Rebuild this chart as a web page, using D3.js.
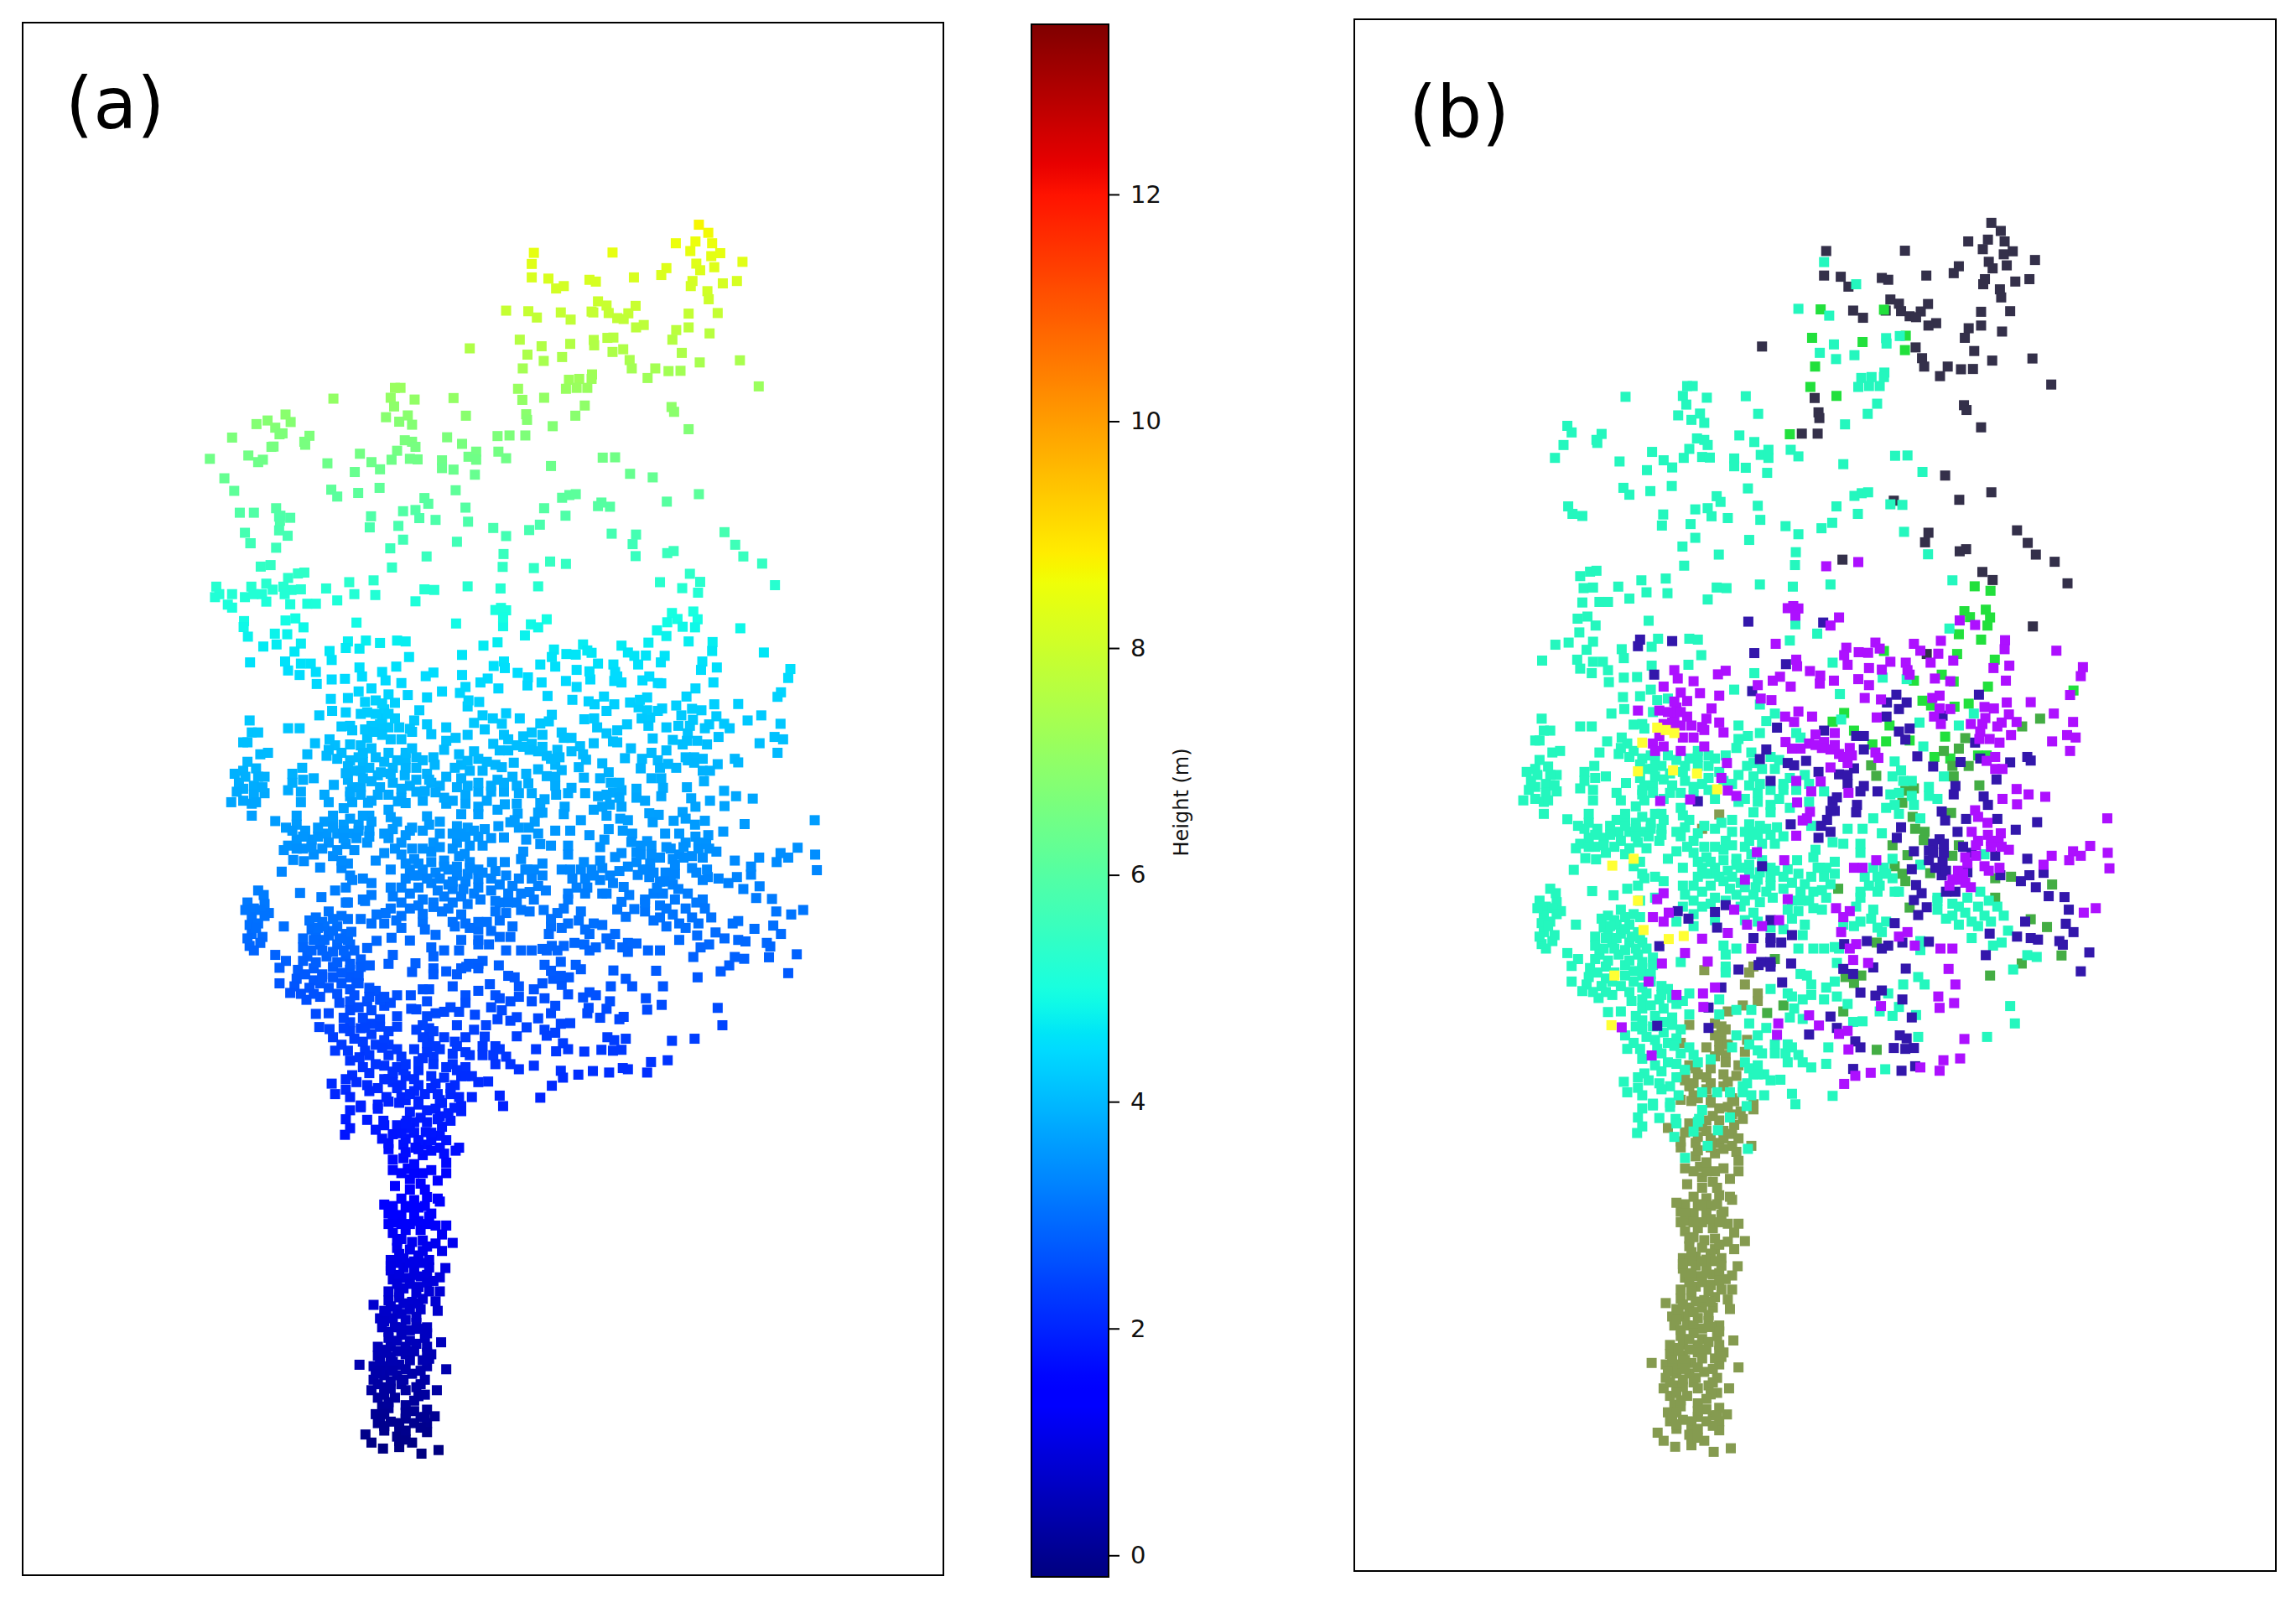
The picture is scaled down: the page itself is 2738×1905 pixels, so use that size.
<!DOCTYPE html>
<html>
<head>
<meta charset="utf-8">
<script src="https://cdnjs.cloudflare.com/ajax/libs/d3/7.8.5/d3.min.js"></script>
<style>
html, body { margin: 0; padding: 0; background: #fff; }
</style>
</head>
<body>
<div id="chart"></div>
<script>
// Points, in plot units, one array per class and per band of the tree
const bandOffset = { upper: 0, middle: 1484, lower: 2968 };

const darkUpper = [[1166,100],[1188,127],[1112,162],[1158,156],[1197,162],[1146,188],[780,194],[964,193],[1216,195],[1195,205],[1268,224],[1160,230],[1090,245],[1202,242],[1169,252],[1078,268],[775,276],[814,280],[1014,276],[910,284],[925,290],[1151,288],[1147,305],[1222,296],[1255,288],[832,313],[1186,322],[1189,349],[930,356],[950,370],[1018,371],[955,395],[1001,396],[843,393],[919,393],[1142,397],[1210,395],[866,417],[975,412],[990,415],[1037,435],[1019,443],[1113,452],[1142,443],[1191,463],[1104,484],[630,513],[989,516],[1126,528],[1004,552],[1168,560],[1262,553],[1009,580],[1064,580],[1095,589],[1123,588],[1046,612],[1306,640],[753,685],[1102,709],[1108,725],[762,733],[764,752],[1142,783],[723,804],[760,804],[1058,944],[1166,1000],[1091,1025],[938,1028],[1019,1135],[1226,1127],[1011,1167],[1251,1169],[1107,1190],[1092,1197],[1270,1208],[818,1225],[1314,1232],[1145,1266],[1169,1293],[1344,1304],[1263,1448]];
const darkMiddle = [[1015,56]];

const limeUpper = [[767,389],[915,390],[747,484],[865,498],[966,477],[964,525],[754,580],[743,648],[804,678],[695,806],[1127,1314],[1164,1329],[1103,1397],[1153,1392],[1116,1417],[1163,1418],[1157,1445],[1090,1474]];
const limeMiddle = [[1142,8],[1086,56],[915,46],[1174,75],[1050,125],[1078,148],[985,145],[1158,165],[1358,178],[822,253],[795,282],[845,312],[928,295],[1005,212],[1025,228],[1080,232],[1113,222],[1058,332],[920,348],[888,358],[975,345],[1033,400],[1070,405],[1135,395],[1155,395]];

const greenMiddle = [[1280,272],[1238,298],[1105,337],[1090,372],[1055,380],[1075,430],[1078,465],[1113,430],[885,428],[897,463],[1138,495],[965,513],[985,505],[958,553],[1072,587],[982,600],[988,640],[1010,650],[1008,678],[1090,695],[935,695],[1075,730],[970,728],[940,765],[958,790],[965,815],[765,770],[1023,788],[808,840],[1175,805],[1212,800],[1175,870],[1308,826],[975,903],[1258,942],[1296,968],[898,1020],[660,1075],[1330,1063],[1237,1090],[1163,1130],[862,1130],[825,1135],[845,1155],[680,1230],[642,1255],[820,1250],[898,1378]];

const oliveMiddle = [[530,592],[490,640],[495,1112],[600,1120],[610,1100],[590,1160],[620,1190],[620,1215],[585,1230],[550,1250],[535,1300],[535,1330],[530,1350],[595,1345],[440,1355],[590,1385],[500,1370],[545,1395],[545,1420],[460,1430],[450,1450],[480,1460],[510,1440],[540,1460],[570,1465],[450,1480],[500,1470],[550,1485],[480,1540],[510,1555],[565,1550],[610,1560],[460,1295],[520,1290],[545,1310],[520,1330],[550,1360],[530,1380],[520,1400],[575,1430],[475,1440],[440,1470],[470,1490],[510,1490],[540,1500],[460,1500],[500,1510],[470,1530],[440,1545],[560,1540]];
const oliveLower = [[465,65],[510,60],[550,85],[610,93],[460,140],[515,115],[585,125],[565,145],[410,155],[500,165],[560,175],[575,190],[440,220],[475,205],[530,205],[560,215],[605,215],[475,250],[520,240],[570,235],[575,265],[450,290],[485,285],[540,290],[575,300],[555,325],[490,320],[515,335],[455,343],[490,355],[525,355],[470,385],[500,390],[555,385],[560,395],[530,380],[450,410],[480,410],[510,415],[540,435],[440,435],[470,440],[500,440],[455,465],[535,445],[510,460],[575,475],[550,475],[450,500],[480,490],[515,490],[565,505],[470,520],[495,530],[590,533],[550,535],[460,550],[490,555],[520,560],[565,560],[445,590],[475,585],[510,575],[535,590],[445,625],[475,615],[500,620],[535,615],[573,617],[450,655],[480,650],[515,645],[560,648],[440,695],[475,685],[510,680],[560,695],[440,725],[465,715],[495,730],[520,720],[550,728],[405,740],[430,760],[460,755],[490,755],[515,755],[555,760],[420,785],[450,785],[480,790],[505,800],[425,815],[455,815],[490,825],[530,815],[440,850],[490,860],[525,850],[563,865],[415,880],[445,880],[480,880],[530,880],[415,910],[445,915],[480,905],[540,905],[372,940],[405,945],[435,945],[465,940],[530,945],[575,955],[405,990],[430,975],[460,975],[495,970],[525,990],[400,1025],[430,1015],[470,1005],[505,1015],[553,1025],[415,1050],[455,1050],[525,1040],[425,1080],[480,1075],[530,1090],[410,1105],[440,1085],[480,1120],[515,1115],[548,1112],[415,1135],[465,1135],[500,1135],[530,1135],[430,1160],[465,1165],[530,1165],[386,1173],[400,1200],[465,1195],[495,1200],[427,1220],[465,1215],[557,1225],[517,1237]];
const oliveLowerDense = [[430,405],[450,440],[490,415],[525,410],[530,470],[490,470],[440,470],[470,470],[460,525],[520,525],[530,545],[465,570],[500,595],[460,600],[445,610],[490,600],[520,600],[465,640],[500,640],[530,640],[545,660],[460,670],[490,670],[530,665],[535,695],[505,700],[465,700],[445,745],[475,735],[510,735],[470,770],[435,775],[505,780],[430,795],[470,815],[510,820],[440,830],[470,840],[530,835],[505,870],[460,860],[425,890],[460,895],[500,895],[530,900],[435,900],[420,930],[450,930],[490,925],[520,925],[535,920],[420,960],[450,960],[480,955],[515,960],[410,970],[445,995],[475,990],[515,1005],[415,1005],[445,1020],[480,1025],[430,1040],[510,1045],[440,1065],[500,1060],[430,1105],[420,1120],[500,1095],[525,1115],[480,1100],[445,1130],[430,1145],[515,1150],[460,1180],[480,1190],[480,1160],[520,300],[500,300],[470,300],[500,270],[480,230],[510,220],[540,225],[540,190],[510,190],[480,185],[440,200],[540,165],[530,130],[500,130],[560,110],[580,100],[530,90],[490,150],[450,170]];

const tealUpper = [[775,231],[850,305],[715,387],[787,410],[920,485],[921,503],[952,478],[798,506],[765,534],[846,542],[803,555],[916,600],[915,615],[862,618],[886,615],[855,648],[880,645],[905,645],[455,645],[468,645],[445,678],[501,684],[592,679],[311,681],[453,707],[485,737],[434,743],[465,758],[495,768],[621,738],[899,704],[877,738],[824,773],[175,778],[185,800],[255,805],[243,825],[577,810],[245,835],[166,842],[146,885],[478,820],[495,825],[503,842],[460,855],[612,832],[645,858],[697,858],[715,880],[627,875],[645,885],[373,865],[400,893],[447,885],[490,882],[508,884],[565,887],[297,897],[565,913],[592,918],[420,917],[361,926],[642,935],[820,906],[941,878],[970,877],[1005,932],[306,985],[320,1008],[369,996],[419,979],[597,987],[524,1013],[533,1032],[846,1012],[863,1003],[878,1000],[804,1047],[930,1040],[958,1042],[620,1045],[177,1047],[187,1072],[210,1079],[399,1074],[474,1057],[503,1053],[512,1080],[550,1086],[626,1092],[396,1111],[463,1106],[854,1072],[794,1102],[769,1120],[685,1113],[715,1140],[962,1132],[474,1152],[600,1159],[444,1181],[709,1200],[529,1208],[1018,1207],[448,1245],[707,1243],[228,1265],[243,1262],[205,1280],[405,1288],[348,1294],[1075,1294],[213,1320],[235,1318],[294,1315],[625,1308],[702,1315],[790,1308],[524,1318],[547,1320],[360,1334],[409,1337],[320,1355],[503,1358],[210,1368],[250,1366],[270,1366],[199,1422],[222,1415],[241,1445],[365,1429],[203,1468],[708,1441],[759,1472],[1068,1455]];
const tealMiddle = [[147,25],[178,18],[235,15],[220,42],[302,40],[307,70],[372,32],[387,5],[460,5],[480,8],[695,11],[488,60],[116,78],[198,75],[235,82],[258,82],[372,95],[458,92],[795,85],[205,105],[232,120],[270,110],[272,150],[307,135],[338,133],[612,120],[565,175],[912,135],[968,140],[305,200],[345,197],[370,175],[812,190],[385,210],[410,205],[625,225],[115,272],[278,255],[308,240],[205,298],[232,298],[120,312],[135,312],[330,292],[350,290],[575,295],[640,280],[660,255],[815,275],[998,285],[1090,295],[1125,255],[375,250],[355,305],[100,345],[110,345],[268,348],[302,335],[315,355],[300,370],[330,380],[140,385],[158,380],[250,385],[350,405],[380,410],[410,395],[480,400],[575,340],[597,330],[570,370],[605,385],[625,320],[710,320],[720,335],[1007,365],[520,405],[110,410],[80,450],[100,440],[130,432],[150,460],[238,430],[215,450],[265,465],[240,470],[90,480],[125,490],[205,505],[312,487],[360,440],[395,430],[450,430],[505,430],[480,380],[355,495],[375,495],[420,495],[450,480],[490,490],[595,430],[575,460],[610,465],[630,440],[940,415],[955,445],[935,465],[1020,500],[980,480],[1055,465],[695,470],[730,460],[650,510],[680,510],[775,515],[150,515],[125,520],[100,540],[72,545],[120,550],[235,545],[290,520],[300,545],[350,525],[355,545],[415,520],[440,570],[520,540],[575,550],[620,520],[650,560],[650,585],[695,570],[740,550],[930,525],[940,560],[980,530],[1040,540],[120,590],[225,590],[335,565],[395,590],[445,595],[610,585],[950,590],[1000,605],[175,608],[200,630],[225,620],[245,640],[290,610],[310,610],[335,620],[370,620],[400,610],[295,650],[320,650],[350,650],[450,635],[495,630],[535,620],[560,610],[600,625],[625,630],[650,660],[680,665],[745,630],[830,640],[865,640],[890,605],[910,655],[225,670],[260,670],[300,680],[340,685],[390,680],[440,665],[470,680],[545,680],[600,680],[630,690],[795,685],[820,690],[860,690],[195,705],[240,700],[265,720],[217,738],[242,742],[310,725],[345,750],[430,715],[410,740],[470,720],[500,735],[540,710],[570,740],[605,725],[755,710],[750,735],[860,720],[935,740],[780,770],[800,750],[712,745],[330,765],[445,770],[490,770],[520,770],[550,780],[580,770],[650,770],[190,777],[350,790],[890,770],[915,770],[1000,760],[1150,725],[355,805],[380,800],[400,815],[445,830],[480,800],[510,790],[540,815],[580,820],[620,810],[650,800],[680,800],[715,790],[745,800],[790,825],[135,840],[148,855],[233,848],[283,862],[315,840],[340,830],[380,870],[110,880],[150,885],[345,880],[450,860],[490,850],[520,870],[570,860],[610,860],[640,850],[680,840],[720,850],[750,850],[860,850],[900,800],[935,805],[905,830],[860,870],[940,850],[1140,850],[1040,870],[1075,890],[1135,900],[125,900],[160,915],[120,930],[115,955],[135,950],[195,960],[255,940],[260,970],[300,910],[330,925],[290,960],[320,960],[345,935],[430,950],[470,965],[490,900],[580,900],[610,920],[715,915],[750,905],[700,940],[730,960],[845,965],[885,940],[920,950],[1040,910],[1105,920],[1195,930],[1060,940],[1090,960],[1135,965],[1165,950],[1205,980],[650,970],[680,975],[120,985],[145,995],[240,1000],[270,990],[300,990],[340,985],[725,995],[910,985],[1000,1015],[1120,1005],[115,1025],[240,1030],[280,1020],[320,1020],[350,1020],[540,1030],[570,1040],[715,1040],[750,1040],[775,1040],[800,1035],[1000,1045],[1170,1030],[1190,1020],[175,1055],[200,1075],[250,1060],[295,1060],[340,1060],[375,1070],[545,1060],[1250,1062],[1272,1068],[185,1098],[228,1105],[265,1100],[310,1095],[350,1105],[440,1085],[805,1088],[545,1100],[225,1135],[265,1140],[310,1130],[350,1130],[395,1165],[185,1150],[220,1160],[255,1165],[300,1165],[350,1170],[410,1175],[460,1190],[545,1120],[720,1125],[995,1135],[1217,1110],[745,1160],[780,1170],[650,1175],[690,1190],[210,1182],[960,1160],[745,1195],[805,1200],[925,1190],[280,1195],[248,1205],[350,1210],[390,1210],[430,1225],[530,1210],[705,1240],[350,1240],[400,1240],[300,1250],[270,1252],[830,1225],[905,1250],[950,1235],[1210,1232],[990,1262],[935,1265],[530,1260],[570,1245],[605,1245],[695,1270],[725,1275],[843,1285],[865,1283],[350,1280],[420,1270],[460,1260],[1221,1290],[600,1290],[310,1330],[350,1310],[400,1320],[440,1310],[330,1355],[380,1345],[410,1355],[315,1375],[570,1330],[620,1330],[640,1305],[660,1360],[690,1360],[785,1370],[995,1335],[1156,1335],[620,1380],[685,1390],[715,1395],[350,1408],[395,1390],[440,1390],[480,1420],[510,1410],[590,1420],[620,1430],[780,1425],[745,1437],[918,1443],[430,1425],[355,1457],[395,1450],[390,1490],[415,1500],[635,1460],[673,1478],[595,1490],[307,1485],[340,1505],[315,1520],[350,1530],[395,1510],[435,1530],[490,1520],[525,1520],[555,1520],[585,1520],[605,1530],[635,1530],[700,1525],[795,1532],[375,1558],[415,1555],[708,1560]];
const tealMiddleDense = [[270,930],[285,945],[310,935],[275,965],[310,975],[265,1005],[290,1005],[325,1000],[345,1005],[260,1040],[285,1040],[310,1045],[335,1040],[360,1040],[240,1075],[270,1080],[320,1080],[350,1085],[375,1095],[245,1120],[285,1120],[330,1115],[370,1125],[280,1150],[330,1150],[370,1150],[235,1185],[265,1185],[320,1185],[360,1190],[395,1195],[325,1215],[370,1230],[420,1205],[445,1215],[335,1265],[380,1265],[400,1285],[335,1300],[375,1300],[420,1295],[360,1335],[430,1340],[345,1375],[385,1375],[425,1365],[460,1370],[470,1395],[410,1420],[380,1430],[450,1445],[430,1470],[365,1480],[340,1470],[310,590],[350,600],[380,590],[275,630],[310,630],[335,640],[370,640],[395,640],[275,660],[335,665],[365,665],[395,660],[215,640],[240,660],[205,690],[225,700],[260,695],[285,700],[320,705],[360,705],[460,610],[430,650],[480,655],[520,640],[560,650],[590,650],[610,650],[640,640],[665,635],[455,700],[495,700],[520,700],[560,695],[590,700],[620,660],[660,690],[480,750],[510,750],[540,745],[570,760],[600,760],[630,745],[500,790],[530,800],[560,800],[600,790],[625,785],[660,780],[690,775],[470,830],[510,830],[555,840],[590,835],[615,835],[650,830],[700,820],[730,825],[470,880],[510,890],[545,880],[590,880],[625,885],[655,870],[700,880],[445,900],[470,925],[520,945],[590,945],[620,950],[690,910],[770,845],[775,800],[760,770],[800,790],[345,425],[375,440],[415,455],[400,475],[445,450],[480,430],[470,500],[345,470],[380,465],[350,510],[375,520],[400,540],[440,520],[470,530],[505,470],[505,510],[540,480],[560,490],[600,495],[625,490],[590,540],[620,550],[670,540],[295,390],[320,400],[370,395],[430,410],[460,405],[505,395],[545,395],[530,450],[660,440],[680,490],[710,510],[740,490],[670,410],[610,420],[650,400],[215,480],[235,510],[100,500],[135,460],[85,510],[130,545],[105,460],[145,495],[870,800],[880,830],[920,790],[950,850],[900,850],[850,900],[890,910],[860,950],[900,970],[820,960],[920,570],[950,520],[960,480],[985,560],[1020,530],[1040,880],[1110,870],[1160,880],[1180,900],[1090,900],[1150,930],[1075,930],[1120,950],[780,870],[740,880],[770,910],[720,880],[810,1040],[800,1150],[735,1130],[700,1200],[725,1210],[775,1210],[1010,1160],[560,1370],[600,1360],[630,1390],[660,1390],[700,1370],[690,1420],[725,1420],[610,1460],[650,1480],[600,1440],[620,1460],[585,1500],[105,905],[140,905],[130,965],[110,1000],[140,1015],[125,1040],[150,925]];
const tealLower = [[340,120],[350,90],[375,80],[415,85],[490,95],[594,82],[390,122],[428,125],[430,140],[483,125],[555,120],[338,172],[350,150],[425,185],[470,167],[527,163],[503,215],[597,225],[450,255],[480,135]];

const indigoUpper = [[598,1432],[773,1435]];
const indigoMiddle = [[345,8],[340,30],[420,13],[612,53],[686,90],[378,125],[607,180],[944,192],[922,218],[968,218],[950,240],[1137,192],[921,265],[1052,262],[665,302],[775,312],[950,315],[975,305],[965,342],[850,330],[868,330],[640,375],[868,375],[1128,352],[625,407],[690,420],[705,428],[733,413],[993,398],[1250,400],[1258,412],[1140,405],[1094,417],[1210,418],[1030,432],[762,450],[845,438],[810,458],[830,460],[650,480],[830,490],[1178,475],[868,497],[860,515],[900,515],[1082,497],[1078,525],[795,548],[805,535],[1148,532],[1158,560],[480,548],[852,560],[850,585],[800,580],[790,580],[1050,582],[1107,607],[1058,612],[1180,607],[782,610],[1273,618],[697,625],[768,630],[790,650],[955,635],[1087,650],[1223,643],[945,670],[762,670],[1045,675],[1030,690],[1055,690],[1020,712],[985,715],[1055,720],[1175,730],[1020,745],[1052,750],[1250,740],[1110,785],[980,775],[630,765],[1050,795],[1187,795],[1255,795],[1288,787],[1235,815],[1270,835],[990,828],[1060,850],[1082,850],[1003,855],[1300,865],[1337,868],[985,878],[1015,902],[433,915],[1347,910],[995,928],[545,895],[520,918],[458,940],[650,945],[1245,950],[1340,957],[525,970],[940,955],[1358,985],[1162,990],[1226,1000],[1258,1005],[1275,1010],[1325,1015],[1333,1027],[610,1005],[650,1005],[650,1020],[700,995],[675,1020],[822,1025],[875,1015],[925,1030],[910,1040],[390,1032],[958,1020],[1020,1017],[1395,1053],[1153,1062],[628,1085],[650,1085],[622,1095],[650,1100],[698,1090],[575,1110],[820,1108],[843,1125],[890,1103],[966,1107],[1375,1116],[677,1153],[860,1187],[910,1180],[895,1197],[958,1210],[535,1170],[505,1237],[790,1267],[980,1270],[385,1298],[505,1305],[740,1327],[805,1305],[952,1330],[968,1340],[848,1350],[860,1370],[938,1372],[965,1375],[985,1372],[843,1442],[956,1448],[988,1433],[1030,720],[1035,770],[1045,770],[1060,780],[1100,700],[1120,720]];

const purpleUpper = [[780,1247],[855,1233],[690,1387],[703,1380],[715,1388],[708,1412],[810,1418],[790,1445],[1092,1428],[1128,1443]];
const purpleMiddle = [[662,22],[827,35],[895,18],[905,38],[985,22],[1000,45],[1048,12],[1042,55],[1198,10],[1197,40],[1318,45],[822,60],[856,50],[878,52],[710,75],[712,97],[930,82],[966,85],[1024,85],[1077,78],[1380,100],[1375,130],[830,92],[880,103],[910,108],[1208,95],[1171,103],[970,110],[975,125],[742,113],[766,128],[425,110],[545,112],[527,124],[433,138],[470,147],[672,132],[655,145],[765,155],[798,145],[855,140],[880,160],[1034,138],[1070,147],[1200,145],[400,165],[620,160],[697,165],[440,185],[485,187],[530,195],[1350,193],[627,205],[652,210],[455,213],[870,203],[908,208],[1028,203],[1045,195],[1202,218],[1258,217],[340,245],[512,238],[430,235],[390,245],[1045,238],[1070,240],[1150,233],[1172,238],[715,248],[684,265],[747,265],[898,268],[1032,265],[1207,258],[1312,255],[425,265],[500,272],[420,285],[440,295],[465,295],[490,300],[530,285],[705,283],[1048,290],[1357,283],[1118,290],[1152,270],[1145,290],[1190,285],[1180,298],[1225,283],[1212,327],[540,318],[495,310],[1140,315],[800,320],[390,330],[445,335],[470,335],[755,325],[1343,327],[1363,335],[1308,348],[375,355],[400,365],[380,380],[440,380],[495,365],[685,350],[740,355],[720,372],[700,372],[775,350],[790,375],[835,370],[810,390],[1138,340],[1162,340],[1185,352],[1350,380],[895,385],[902,403],[830,420],[790,435],[1175,400],[1155,413],[548,420],[1175,440],[1192,440],[535,470],[710,480],[745,515],[767,482],[550,512],[570,530],[832,520],[1225,507],[1253,525],[1292,533],[1192,540],[1226,558],[392,547],[462,542],[712,552],[742,583],[735,605],[725,612],[1128,578],[1135,600],[1157,620],[1437,605],[710,663],[1120,650],[1158,660],[1188,655],[1135,680],[1165,680],[1183,685],[1130,695],[1207,710],[1397,697],[1438,720],[1357,715],[1375,730],[1307,730],[1348,745],[1288,760],[1442,772],[682,745],[618,718],[897,745],[845,770],[865,770],[1105,735],[1110,755],[1088,780],[1150,765],[1185,770],[1075,810],[1068,830],[1105,820],[1118,835],[590,810],[400,855],[690,875],[385,875],[1410,905],[1382,920],[803,905],[835,915],[820,935],[565,910],[375,935],[412,920],[400,950],[815,985],[595,960],[630,965],[670,945],[550,988],[490,1007],[605,1040],[850,1025],[835,1040],[970,985],[950,1000],[987,1030],[1047,1040],[1075,1040],[450,1055],[843,1078],[878,1088],[503,1083],[396,1090],[1066,1108],[365,1150],[1082,1160],[520,1170],[430,1195],[492,1190],[1042,1200],[1079,1222],[1045,1238],[493,1235],[908,1232],[740,1263],[668,1290],[302,1303],[763,1297],[665,1328],[810,1325],[830,1315],[1103,1342],[832,1377],[372,1397],[1054,1413],[1093,1407],[1000,1437],[1045,1448],[848,1465],[884,1455],[822,1492],[1130,730],[1165,700],[1190,700],[1100,790],[1085,810],[1160,780],[425,215],[440,250],[410,250],[420,300],[455,265],[400,290],[770,370],[800,360],[820,400],[840,395],[755,360]];

const yellowMiddle = [[385,302],[405,310],[350,352],[425,320],[340,448],[422,445],[478,455],[525,508],[280,763],[330,740],[340,880],[353,978],[412,1008],[447,998],[285,1130],[278,1296]];

// Points on the left of the crown that only panel (a) shows
const crownLeftUpper = [[22,882],[56,947],[79,989],[112,871],[135,893],[74,811],[131,766],[157,754],[171,841],[192,797],[211,759],[199,734],[125,1062],[92,1062],[104,1129],[117,1164],[184,1075],[186,1089],[184,1121],[204,1139],[117,1164],[177,1179],[141,1242],[164,1237],[154,1299],[119,1309],[37,1309],[44,1334],[74,1334],[34,1344],[104,1344],[124,1334],[144,1334],[169,1319],[194,1309],[197,1334],[154,1359],[64,1369],[74,1379],[102,1424],[101,1444],[111,1476],[174,1466]];

const classNames = ["dark", "lime", "green", "olive", "teal", "indigo", "purple", "yellow"];
const classColors = ["#34304a", "#22e03c", "#44ad44", "#859b50", "#24f7be", "#3317ab", "#ad10ff", "#ffff33"];

// Colour bar
const barTicks = [0, 2, 4, 6, 8, 10, 12];
const barDomain = [-0.19, 13.5];

// Plot height (in plot units) and the height in metres that its colour stands for
const plotKnots = [4203, 3408, 1532, 98];
const heightKnots = [-0.19, 1.32, 4.6, 8.71];

// Matplotlib jet segments
const jetRedAt = [0, 0.35, 0.66, 0.89, 1];
const jetRed = [0, 0, 1, 1, 0.5];
const jetGreenAt = [0, 0.125, 0.375, 0.64, 0.91, 1];
const jetGreen = [0, 0, 1, 1, 0, 0];
const jetBlueAt = [0, 0.11, 0.34, 0.65, 1];
const jetBlue = [0.5, 1, 1, 0, 0];

const width = 2738;
const height = 1905;
const markerSize = 12;

const svg = d3.select("#chart")
    .append("svg")
    .attr("width", width)
    .attr("height", height)
    .style("display", "block");

// Merge the bands into one list of points with their class
function band(points, name, className) {
    return points.map(p => ({ x: p[0], y: p[1] + bandOffset[name], cls: className }));
}

const points = [].concat(
    band(darkUpper, "upper", "dark"), band(darkMiddle, "middle", "dark"),
    band(limeUpper, "upper", "lime"), band(limeMiddle, "middle", "lime"),
    band(greenMiddle, "middle", "green"),
    band(oliveMiddle, "middle", "olive"), band(oliveLower, "lower", "olive"), band(oliveLowerDense, "lower", "olive"),
    band(tealUpper, "upper", "teal"), band(tealMiddle, "middle", "teal"), band(tealMiddleDense, "middle", "teal"), band(tealLower, "lower", "teal"),
    band(indigoUpper, "upper", "indigo"), band(indigoMiddle, "middle", "indigo"),
    band(purpleUpper, "upper", "purple"), band(purpleMiddle, "middle", "purple"),
    band(yellowMiddle, "middle", "yellow")
);
const pointsLeft = band(crownLeftUpper, "upper", "teal");

// Colour scales
const redScale = d3.scaleLinear().domain(jetRedAt).range(jetRed);
const greenScale = d3.scaleLinear().domain(jetGreenAt).range(jetGreen);
const blueScale = d3.scaleLinear().domain(jetBlueAt).range(jetBlue);
const barFraction = d3.scaleLinear().domain(barDomain).range([0, 1]).clamp(true);
function jet(t) {
    return d3.rgb(redScale(t) * 255, greenScale(t) * 255, blueScale(t) * 255).formatRgb();
}
const plotToHeight = d3.scaleLinear().domain(plotKnots).range(heightKnots);
const classColor = d3.scaleOrdinal().domain(classNames).range(classColors);

function drawPanel(frame, xDomain, yDomain, data, label, labelX, labelY, labelSize, fill) {
    const x = d3.scaleLinear().domain(xDomain).range([frame.left, frame.right]);
    const y = d3.scaleLinear().domain(yDomain).range([frame.top, frame.bottom]);

    svg.append("g")
        .selectAll("rect")
        .data(data)
        .join("rect")
        .attr("x", d => x(d.x) - markerSize / 2)
        .attr("y", d => y(d.y) - markerSize / 2)
        .attr("width", markerSize)
        .attr("height", markerSize)
        .attr("fill", fill);

    svg.append("rect")
        .attr("x", frame.left)
        .attr("y", frame.top)
        .attr("width", frame.right - frame.left)
        .attr("height", frame.bottom - frame.top)
        .attr("fill", "none")
        .attr("stroke", "#000")
        .attr("stroke-width", 2);

    svg.append("text")
        .attr("x", labelX)
        .attr("y", labelY)
        .attr("font-family", "DejaVu Sans")
        .attr("font-size", labelSize)
        .attr("fill", "#000")
        .text(label);
}

// Panel (a): coloured by height
drawPanel({ left: 27, right: 1125, top: 27, bottom: 1879 }, [-416, 1738], [-575, 4611], points.concat(pointsLeft),
    "(a)", 78, 153, 85,
    d => jet(barFraction(plotToHeight(d.y))));

// Panel (b): coloured by class
drawPanel({ left: 1615, right: 2714, top: 23, bottom: 1874 }, [-323, 1831], [-580, 4603], points,
    "(b)", 1680, 163, 85,
    d => classColor(d.cls));

// Colour bar
const bar = { left: 1230, right: 1322, top: 29, bottom: 1881 };
const barScale = d3.scaleLinear().domain(barDomain).range([bar.bottom, bar.top]);

const gradient = svg.append("defs").append("linearGradient")
    .attr("id", "jet-gradient")
    .attr("x1", "0%")
    .attr("y1", "100%")
    .attr("x2", "0%")
    .attr("y2", "0%");

gradient.selectAll("stop")
    .data(d3.range(0, 101))
    .join("stop")
    .attr("offset", d => d + "%")
    .attr("stop-color", d => jet(d / 100));

svg.append("rect")
    .attr("x", bar.left)
    .attr("y", bar.top)
    .attr("width", bar.right - bar.left)
    .attr("height", bar.bottom - bar.top)
    .attr("fill", "url(#jet-gradient)")
    .attr("stroke", "#000")
    .attr("stroke-width", 2);

const barAxis = svg.append("g")
    .attr("transform", `translate(${bar.right}, 0)`)
    .call(d3.axisRight(barScale).tickValues(barTicks).tickSize(13).tickPadding(13));

barAxis.select(".domain").remove();
barAxis.selectAll("line").attr("stroke", "#000").attr("stroke-width", 2);
barAxis.selectAll("text")
    .attr("font-family", "DejaVu Sans")
    .attr("font-size", 29)
    .attr("fill", "#111");

svg.append("text")
    .attr("transform", "translate(1409, 957) rotate(-90)")
    .attr("text-anchor", "middle")
    .attr("dominant-baseline", "central")
    .attr("font-family", "DejaVu Sans")
    .attr("font-size", 24)
    .attr("fill", "#111")
    .text("Height (m)");
</script>
</body>
</html>
